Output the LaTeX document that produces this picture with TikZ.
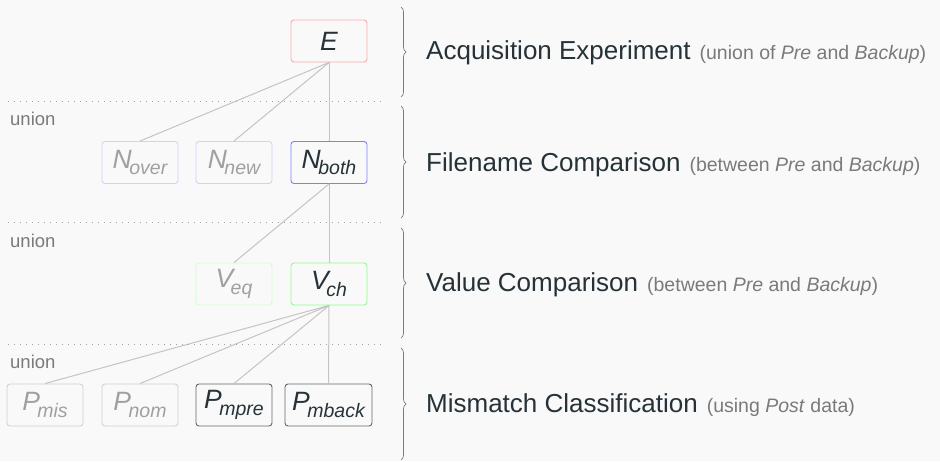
\documentclass[tikz,border=0pt]{standalone}
\usepackage{fontspec}
\setmainfont{Liberation Sans}
\usepackage{tikz}
\usetikzlibrary{decorations.pathreplacing}

\definecolor{ink}{HTML}{263238}
\definecolor{faint}{HTML}{A0A0A0}
\definecolor{note}{HTML}{7A7A7A}
\definecolor{wire}{HTML}{C4C4C4}
\definecolor{bg}{HTML}{F9F9F9}

% symbol with a lowered subscript
\newcommand{\sym}[2]{{\itshape #1\kern-2.5pt\raisebox{-0.26em}{\fontsize{19.5}{19.5}\selectfont #2}}}
% small grey remark after a stage title
\newcommand{\remark}[1]{{\color{note}\fontsize{19.5}{19.5}\selectfont\hspace{9pt}#1}}

\begin{document}
\begin{tikzpicture}[x=1pt,y=-1pt,
  box/.style={draw,rectangle,rounded corners=3pt,line width=0.9pt,inner sep=0pt,
    minimum width=76pt,minimum height=42pt,font=\fontsize{26.5}{26.5}\selectfont},
  keep/.style={text=ink},
  drop/.style={text=faint},
  wire/.style={draw=wire,line width=1pt},
  sep/.style={draw=faint,line width=0.8pt,dash pattern=on 0.8pt off 5.2pt},
  stage/.style={decorate,decoration={brace,amplitude=5pt},draw=note,line width=0.7pt},
  title/.style={anchor=base west,inner sep=0pt,text=ink,font=\fontsize{26}{26}\selectfont},
  tag/.style={anchor=base west,inner sep=0pt,text=note,font=\fontsize{18.5}{18.5}\selectfont}]
\fill[bg] (0,0) rectangle (940,461);

% nodes
\node[box,keep,draw=red!35] (E) at (329,41) {\textit{E}};
\node[box,drop,draw=blue!18] (Nover) at (140,162.5) {\sym{N}{over}};
\node[box,drop,draw=blue!18] (Nnew) at (234,162.5) {\sym{N}{new}};
\node[box,keep,draw=blue!50] (Nboth) at (329,162.5) {\sym{N}{both}};
\node[box,drop,draw=green!20] (Veq) at (234,284) {\sym{V}{eq}};
\node[box,keep,draw=green!45] (Vch) at (329,284) {\sym{V}{ch}};
\node[box,drop,draw=black!18] (Pmis) at (45,405) {\sym{P}{mis}};
\node[box,drop,draw=black!18] (Pnom) at (140,405) {\sym{P}{nom}};
\node[box,keep,draw=black!60] (Pmpre) at (234,405) {\sym{P}{mpre}};
\node[box,keep,draw=black!60,minimum width=87pt] (Pmback) at (328.5,405) {\sym{P}{mback}};

% connectors
\draw[wire] (E.south) -- (Nover.north);
\draw[wire] (E.south) -- (Nnew.north);
\draw[wire] (E.south) -- (Nboth.north);
\draw[wire] (Nboth.south) -- (Veq.north);
\draw[wire] (Nboth.south) -- (Vch.north);
\draw[wire] (Vch.south) -- (Pmis.north);
\draw[wire] (Vch.south) -- (Pnom.north);
\draw[wire] (Vch.south) -- (Pmpre.north);
\draw[wire] (Vch.south) -- (Pmback.north);

% dotted separators
\foreach \y in {101,222,344} {
  \draw[sep] (8,\y) -- (386,\y);
}
\node[tag] (u1) at (10,125) {union};
\node[tag] (u2) at (10,247) {union};
\node[tag] (u3) at (10,368) {union};

% stages
\draw[stage] (401,7) -- (401,97);
\draw[stage] (401,106) -- (401,218);
\draw[stage] (401,228) -- (401,338);
\draw[stage] (401,348) -- (401,460);
\node[title] (s1) at (426,59.5) {Acquisition Experiment\remark{(union of \textit{Pre} and \textit{Backup})}};
\node[title] (s2) at (426,171) {Filename Comparison\remark{(between \textit{Pre} and \textit{Backup})}};
\node[title] (s3) at (426,291.5) {Value Comparison\remark{(between \textit{Pre} and \textit{Backup})}};
\node[title] (s4) at (426,412) {Mismatch Classification\remark{(using \textit{Post} data)}};
\end{tikzpicture}
\end{document}
